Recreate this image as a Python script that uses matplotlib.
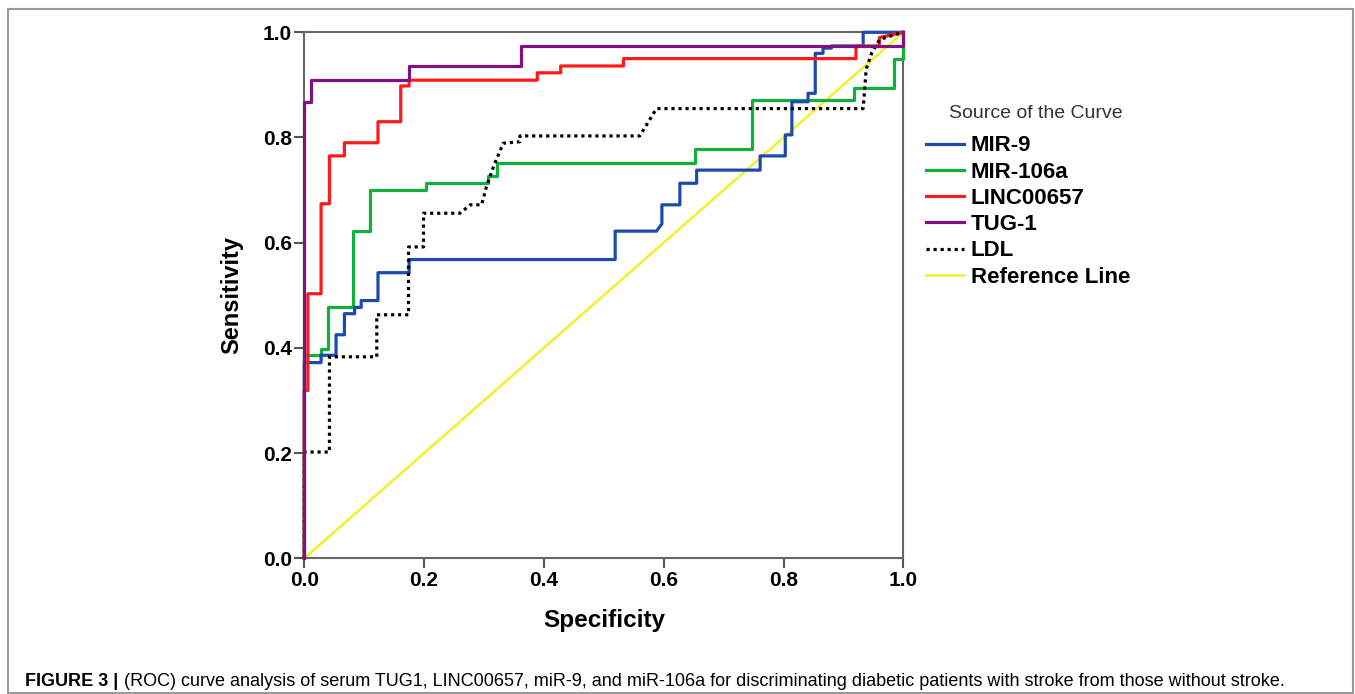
import matplotlib.pyplot as plt
from matplotlib.patches import Rectangle

# ROC curves (x = "Specificity" axis, y = sensitivity)
mir9_x = [0, 0, 0.028, 0.028, 0.053, 0.053, 0.067, 0.067, 0.084, 0.084, 0.095, 0.095,
          0.123, 0.123, 0.175, 0.175, 0.519, 0.519, 0.588, 0.597, 0.597, 0.627, 0.627,
          0.655, 0.655, 0.761, 0.761, 0.803, 0.803, 0.814, 0.814, 0.841, 0.841, 0.853,
          0.853, 0.866, 0.866, 0.880, 0.880, 0.933, 0.933, 1.0]
mir9_y = [0, 0.372, 0.372, 0.386, 0.386, 0.425, 0.425, 0.465, 0.465, 0.477, 0.477, 0.49,
          0.49, 0.543, 0.543, 0.568, 0.568, 0.622, 0.622, 0.636, 0.672, 0.672, 0.713,
          0.713, 0.738, 0.738, 0.765, 0.765, 0.805, 0.805, 0.868, 0.868, 0.884, 0.884,
          0.960, 0.960, 0.970, 0.970, 0.974, 0.974, 1.0, 1.0]

mir106a_x = [0, 0, 0.028, 0.028, 0.039, 0.039, 0.081, 0.081, 0.109, 0.109, 0.203, 0.203,
             0.306, 0.306, 0.322, 0.322, 0.652, 0.652, 0.747, 0.747, 0.918, 0.918,
             0.985, 0.985, 1.0, 1.0]
mir106a_y = [0, 0.386, 0.386, 0.398, 0.398, 0.477, 0.477, 0.622, 0.622, 0.70, 0.70, 0.713,
             0.713, 0.727, 0.727, 0.751, 0.751, 0.779, 0.779, 0.872, 0.872, 0.895,
             0.895, 0.949, 0.949, 1.0]

linc_x = [0, 0, 0.006, 0.006, 0.028, 0.028, 0.042, 0.042, 0.067, 0.067, 0.123, 0.123,
          0.161, 0.161, 0.175, 0.175, 0.389, 0.389, 0.428, 0.428, 0.533, 0.533, 0.921,
          0.921, 0.96, 0.96, 1.0]
linc_y = [0, 0.319, 0.319, 0.503, 0.503, 0.674, 0.674, 0.765, 0.765, 0.79, 0.79, 0.83,
          0.83, 0.898, 0.898, 0.909, 0.909, 0.923, 0.923, 0.936, 0.936, 0.95, 0.95,
          0.974, 0.974, 0.99, 1.0]

tug1_x = [0, 0, 0.012, 0.012, 0.174, 0.174, 0.361, 0.361, 1.0, 1.0]
tug1_y = [0, 0.868, 0.868, 0.909, 0.909, 0.935, 0.935, 0.974, 0.974, 1.0]

ldl_x = [0, 0, 0.042, 0.042, 0.121, 0.121, 0.174, 0.174, 0.199, 0.199, 0.26, 0.277,
         0.296, 0.304, 0.316, 0.332, 0.36, 0.36, 0.56, 0.588, 0.933, 0.938, 0.947,
         0.96, 0.97, 1.0]
ldl_y = [0, 0.202, 0.202, 0.383, 0.383, 0.463, 0.463, 0.592, 0.592, 0.656, 0.656, 0.672,
         0.672, 0.706, 0.745, 0.789, 0.792, 0.803, 0.803, 0.855, 0.855, 0.93, 0.96,
         0.985, 0.99, 1.0]

ref_x = [0, 1]
ref_y = [0, 1]

fig = plt.figure(figsize=(13.55, 6.94), dpi=100)
ax = fig.add_axes([304.3/1355, 1-558.3/694, 599/1355, 526/694])

ax.plot(ref_x, ref_y, color='#f5ee2a', lw=1.8, label='Reference Line', zorder=2)
ax.plot(mir106a_x, mir106a_y, color='#12b03a', lw=2.3, label='MIR-106a', zorder=3)
ax.plot(mir9_x, mir9_y, color='#1c4aae', lw=2.3, label='MIR-9', zorder=4)
ax.plot(linc_x, linc_y, color='#ff1a1a', lw=2.3, label='LINC00657', zorder=5)
ax.plot(ldl_x, ldl_y, color='black', lw=2.3, ls=(0, (1, 1.2)), label='LDL', zorder=6)
ax.plot(tug1_x, tug1_y, color='#7d1280', lw=2.3, label='TUG-1', zorder=7)

for ln in ax.lines:
    ln.set_clip_on(False)

ax.set_xlim(0, 1)
ax.set_ylim(0, 1)
ticks = [0, 0.2, 0.4, 0.6, 0.8, 1.0]
ax.set_xticks(ticks)
ax.set_yticks(ticks)
ax.set_xticklabels([f'{t:.1f}' for t in ticks])
ax.set_yticklabels([f'{t:.1f}' for t in ticks])
for s in ax.spines.values():
    s.set_color('#666666')
    s.set_linewidth(1.5)
ax.tick_params(length=7, width=1.5, color='#555555', pad=2, labelsize=15)
for lab in ax.get_xticklabels() + ax.get_yticklabels():
    lab.set_fontweight('bold')
    lab.set_family('Liberation Sans')

ax.set_xlabel('Specificity', fontsize=17.5, fontweight='bold', family='Liberation Sans', labelpad=14)
ax.set_ylabel('Sensitivity', fontsize=17, fontweight='bold', family='Liberation Sans', labelpad=14)

order = ['MIR-9', 'MIR-106a', 'LINC00657', 'TUG-1', 'LDL', 'Reference Line']
hd = {l.get_label(): l for l in ax.lines}
leg = ax.legend([hd[k] for k in order], order, loc='upper left',
                bbox_to_anchor=(922/1355, 1-131/694), bbox_transform=fig.transFigure,
                frameon=False, handlelength=1.7, handletextpad=0.3, labelspacing=0.235,
                borderaxespad=0, borderpad=0.2,
                prop={'family': 'Liberation Sans', 'weight': 'bold', 'size': 16})
fig.text(1036/1355, 1-114/694, 'Source of the Curve', fontsize=14, color='#333333',
         family='Liberation Sans', ha='center', va='center')

fig.add_artist(Rectangle((8/1355, 1/694), 1345/1355, 684/694, transform=fig.transFigure,
                         fill=False, edgecolor='#999999', lw=1.5))
fig.text(25/1355, 1-681/694, 'FIGURE 3 |', fontsize=13, fontweight='bold',
         family='Liberation Sans', va='center')
fig.text(124/1355, 1-681/694,
         '(ROC) curve analysis of serum TUG1, LINC00657, miR-9, and miR-106a for '
         'discriminating diabetic patients with stroke from those without stroke.',
         fontsize=13, family='Liberation Sans', va='center')

fig.savefig('out.png', dpi=100)
